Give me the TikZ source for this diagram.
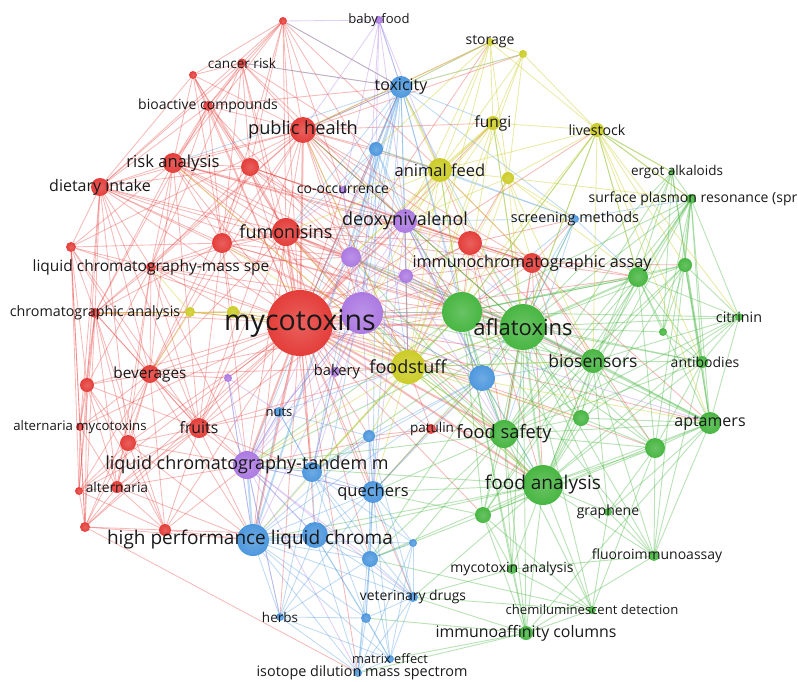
\documentclass[tikz,border=0pt]{standalone}
\usepackage{fontspec}
\setmainfont{Open Sans}
\usetikzlibrary{backgrounds}
\definecolor{cR}{RGB}{228,62,58}
\definecolor{cG}{RGB}{72,182,66}
\definecolor{cB}{RGB}{78,152,222}
\definecolor{cY}{RGB}{204,204,40}
\definecolor{cP}{RGB}{172,122,226}
\definecolor{txt}{RGB}{25,25,25}
\tikzset{
  vnode/.style={circle,inner sep=0pt,outer sep=0pt},
  lab/.style={text=txt,inner sep=1pt},
  eR/.style={draw=cR,opacity=0.36,line width=0.85pt},
  eG/.style={draw=cG,opacity=0.38,line width=0.95pt},
  eB/.style={draw=cB,opacity=0.36,line width=0.85pt},
  eY/.style={draw=cY,opacity=0.42,line width=0.85pt},
  eP/.style={draw=cP,opacity=0.36,line width=0.85pt},
  eRt/.style={draw=cR,opacity=0.36,line width=2pt},
  eGt/.style={draw=cG,opacity=0.36,line width=2pt},
  eBt/.style={draw=cB,opacity=0.36,line width=2pt},
  eYt/.style={draw=cY,opacity=0.42,line width=2pt},
}
\newcommand\nd[5]{\node[vnode,shading=radial,inner color=#5!82!white,outer color=#5,minimum size={2*#4pt}] (#1) at (#2,#3) {};}
\newcommand\lb[4][]{\node[lab,font=\fontsize{#4}{#4}\selectfont,#1] (#2-l) at (#2) {#3};}
\newcommand\lnk[3]{\foreach \tgt in {#3}{\draw[#1] (#2) -- (\tgt);}}
\begin{document}
\begin{tikzpicture}[x=1pt,y=-1pt]
\useasboundingbox (0,0) rectangle (798,681);
% ---------- nodes: red
\nd{r1}{283}{21}{4}{cR}
\nd{crisk}{242}{63}{4.5}{cR}
\nd{r2}{193}{75}{4}{cR}
\nd{bioact}{208}{106}{5}{cR}
\nd{pubh}{303}{130}{13}{cR}
\nd{riska}{173}{163}{10}{cR}
\nd{r3}{250}{167}{9}{cR}
\nd{diet}{100}{187}{9}{cR}
\nd{fumo}{286}{232}{14}{cR}
\nd{r4}{222}{243}{10}{cR}
\nd{r5}{71}{247}{5}{cR}
\nd{lcms}{151}{267}{5}{cR}
\nd{r6}{470}{243}{12}{cR}
\nd{immchrom}{532}{263}{10}{cR}
\nd{chroman}{95}{313}{5}{cR}
\nd{bev}{150}{374}{9}{cR}
\nd{r7}{87}{385}{7}{cR}
\nd{altmyc}{80}{427}{4}{cR}
\nd{fruits}{199}{428}{10}{cR}
\nd{r8}{128}{443}{8}{cR}
\nd{patulin}{431}{429}{5}{cR}
\nd{alt}{117}{487}{6}{cR}
\nd{r9}{79}{491}{4}{cR}
\nd{r10}{85}{527}{5}{cR}
\nd{r11}{165}{530}{6}{cR}
% green
\nd{g1}{462}{312}{20}{cG}
\nd{afla}{523}{327}{23}{cG}
\nd{g2}{638}{277}{10}{cG}
\nd{g3}{685}{265}{7}{cG}
\nd{ergot}{672}{172}{3}{cG}
\nd{spr}{691}{199}{5}{cG}
\nd{citrinin}{739}{317}{4}{cG}
\nd{g4}{663}{332}{4}{cG}
\nd{bios}{593}{361}{12}{cG}
\nd{antib}{702}{362}{6}{cG}
\nd{g5}{581}{418}{8}{cG}
\nd{apt}{710}{423}{11}{cG}
\nd{fsafe}{504}{434}{14}{cG}
\nd{g6}{655}{448}{10}{cG}
\nd{fana}{543}{485}{20}{cG}
\nd{g7}{483}{515}{8}{cG}
\nd{graph}{608}{512}{4}{cG}
\nd{fluoro}{654}{556}{5}{cG}
\nd{mycan}{512}{569}{5}{cG}
\nd{chemil}{592}{610}{4}{cG}
\nd{immaff}{526}{633}{7}{cG}
% blue
\nd{tox}{401}{87}{11}{cB}
\nd{b1}{376}{149}{7}{cB}
\nd{screen}{575}{219}{4}{cB}
\nd{b2}{482}{378}{13}{cB}
\nd{nuts}{279}{412}{5}{cB}
\nd{b3}{369}{436}{6}{cB}
\nd{b4}{312}{472}{10}{cB}
\nd{quech}{373}{492}{11}{cB}
\nd{hplc}{253}{540}{16}{cB}
\nd{b5}{315}{535}{13}{cB}
\nd{b6}{370}{559}{8}{cB}
\nd{b7}{413}{543}{4}{cB}
\nd{herbs}{280}{617}{4}{cB}
\nd{vet}{413}{597}{5}{cB}
\nd{b8}{366}{618}{5}{cB}
\nd{matrix}{390}{659}{4}{cB}
\nd{iso}{358}{673}{4}{cB}
% yellow
\nd{storage}{490}{42}{4}{cY}
\nd{y1}{523}{54}{4}{cY}
\nd{fungi}{493}{123}{7}{cY}
\nd{live}{597}{130}{7}{cY}
\nd{feed}{440}{170}{12}{cY}
\nd{y2}{508}{178}{6}{cY}
\nd{foods}{408}{367}{17}{cY}
\nd{y3}{190}{312}{5}{cY}
\nd{y4}{233}{312}{6}{cY}
% purple
\nd{baby}{379}{20}{4}{cP}
\nd{cooc}{343}{190}{4}{cP}
\nd{deoxy}{405}{221}{12}{cP}
\nd{p1}{351}{257}{10}{cP}
\nd{p2}{406}{276}{7}{cP}
\nd{p3}{362}{313}{21}{cP}
\nd{bakery}{335}{372}{5}{cP}
\nd{p4}{228}{378}{4}{cP}
\nd{lctms}{247}{465}{14}{cP}
\nd{myco}{300}{323}{33}{cR}
% ---------- edges
\begin{pgfonlayer}{background}
\lnk{eRt}{myco}{afla,g1,p3,foods,fumo,pubh,hplc,lctms,fana,fsafe,deoxy}
\lnk{eGt}{afla}{g1,fana,bios,fsafe,apt,g2}
\lnk{eBt}{hplc}{b5,lctms,tox}
\lnk{eYt}{feed}{fungi,tox}
\lnk{eR}{myco}{riska,diet,r3,r4,r5,lcms,chroman,bev,r7,altmyc,fruits,r8,alt,r9,r10,r11,bioact,crisk,r1,r2,r6,immchrom,patulin,tox,b1,cooc,p1,b2,bios,b4,quech,nuts,bakery,p4,y3,y4,feed,fungi,b5,b3,g5,apt,g2,storage,live,g6,g7,b6,herbs,iso,vet}
\lnk{eR}{pubh}{r1,crisk,r2,bioact,riska,r3,diet,fumo,r4,tox,b1,feed,fungi,deoxy,r6,immchrom,lcms,chroman,bev,fruits,afla,g1,foods,storage,cooc,p1,p3,r5,y1}
\lnk{eR}{r1}{crisk,r2,bioact,riska,diet,r3,fumo,tox,deoxy,feed,r4,cooc}
\lnk{eR}{crisk}{r2,bioact,riska,diet,r3,fumo,tox,b1,r4,deoxy,lcms}
\lnk{eR}{r2}{bioact,riska,diet,r3,fumo,r4}
\lnk{eR}{bioact}{riska,diet,r3,fumo,r4,lcms,chroman,tox,p1}
\lnk{eR}{riska}{diet,r3,fumo,r4,lcms,chroman,bev,r5,fruits,r6,immchrom,deoxy,p1,p3,foods,afla}
\lnk{eR}{r3}{diet,fumo,r4,deoxy,p1,r6,afla,g1,immchrom,lcms,bev}
\lnk{eR}{diet}{r5,lcms,chroman,bev,r7,fumo,r4,fruits,r8,altmyc,p1,p3,g1}
\lnk{eR}{fumo}{r4,lcms,p1,deoxy,r6,immchrom,p3,g1,afla,foods,lctms,fruits,bev,hplc,b4,quech,b2,fsafe,fana,bios}
\lnk{eR}{r4}{r5,lcms,chroman,bev,p1,p3,fruits,deoxy,y4,lctms,g1,afla}
\lnk{eR}{r5}{lcms,chroman,r7,altmyc,r9,r10,bev,fruits}
\lnk{eR}{lcms}{chroman,bev,r7,fruits,p1,p3,lctms,y4,r8,alt,g1}
\lnk{eR}{chroman}{r7,altmyc,bev,fruits,r8,y3,y4,r10,r9,alt,r11}
\lnk{eR}{r6}{immchrom,deoxy,p2,g1,afla,feed,y2,screen,bios,g2,foods,fsafe,fana}
\lnk{eR}{immchrom}{g1,afla,g2,g3,bios,apt,fsafe,fana,p2,deoxy,feed,screen,g6,g5}
\lnk{eR}{bev}{r7,altmyc,fruits,r8,alt,p4,lctms,r11,r9,r10,hplc,g1,foods}
\lnk{eR}{r7}{altmyc,fruits,r8,alt,r9,r10,r11}
\lnk{eR}{fruits}{r8,alt,r9,r10,r11,lctms,hplc,nuts,b4,p4,foods,p3}
\lnk{eR}{r8}{alt,r9,r10,r11,lctms,hplc}
\lnk{eR}{alt}{r9,r10,r11,lctms,hplc}
\lnk{eR}{r9}{r10,r11}
\lnk{eR}{r10}{r11,hplc,iso}
\lnk{eR}{r11}{hplc,lctms,b5}
\lnk{eR}{altmyc}{r9,r10,alt}
\lnk{eR}{patulin}{foods,fsafe,b2,fana,lctms,b3,quech}
\lnk{eG}{g1}{bios,g2,g3,fsafe,apt,g6,b2,foods,p3,deoxy,spr,citrinin,antib,g5,g7,immaff,mycan,feed,live,fluoro,p1,lctms,b4}
\lnk{eG}{afla}{g3,spr,ergot,citrinin,g4,antib,g5,g6,g7,graph,fluoro,mycan,chemil,immaff,b2,foods,live,fungi,screen,quech,b6,deoxy,p1,p2,lctms,b4,pubh}
\lnk{eG}{g2}{g3,spr,ergot,citrinin,g4,bios,antib,apt,g6,fana,fsafe,live,g1}
\lnk{eG}{g3}{spr,citrinin,antib,apt,g4,bios,fana,fsafe}
\lnk{eG}{spr}{ergot,g4,citrinin,antib,apt,bios,fana,g6,fsafe,live,fluoro,g7}
\lnk{eG}{ergot}{live,g4,apt,fana,antib,fsafe}
\lnk{eG}{bios}{antib,g5,apt,g6,fsafe,fana,graph,fluoro,g7,citrinin,foods,p3}
\lnk{eG}{antib}{apt,g6,citrinin,g4,fana,fluoro,fsafe}
\lnk{eG}{apt}{g6,g5,fana,fsafe,graph,fluoro,citrinin,g7,immaff}
\lnk{eG}{g5}{fsafe,fana,g6}
\lnk{eG}{fsafe}{fana,g7,b2,foods,quech,mycan,immaff,b6,b7,lctms,p1,p3}
\lnk{eG}{g6}{fana,graph,fluoro,g7,chemil,fsafe}
\lnk{eG}{fana}{g7,graph,fluoro,mycan,chemil,immaff,b2,foods,quech,b6,vet,hplc,b5,lctms,p3}
\lnk{eG}{g7}{mycan,immaff,chemil,quech,b6}
\lnk{eG}{graph}{fluoro,chemil}
\lnk{eG}{mycan}{immaff,chemil,fluoro,vet}
\lnk{eG}{immaff}{chemil,vet,matrix,iso,b8,fluoro}
\lnk{eG}{citrinin}{fsafe,fana,g5}
\lnk{eG}{chemil}{fsafe,b6,vet}
\lnk{eB}{tox}{baby,b1,deoxy,p1,p3,myco,fungi,storage,y1,fumo,b4,quech,lctms,foods,b2,cooc,screen,pubh,crisk,r1,riska,afla,g1,b5}
\lnk{eB}{b1}{deoxy,cooc,p1,p3,feed,b4,fumo,foods,b2,screen,quech}
\lnk{eB}{screen}{b2,afla,g1,spr,g2,deoxy,fsafe,feed}
\lnk{eB}{b2}{foods,fsafe,quech,b3,b4,hplc,fana,bios,p3,deoxy}
\lnk{eB}{b3}{quech,b4,hplc,b6,vet,nuts}
\lnk{eB}{b4}{quech,hplc,b5,b6,nuts,lctms,herbs,vet,b8,b7}
\lnk{eB}{quech}{hplc,b5,b6,b7,vet,b8,lctms,matrix,iso,herbs}
\lnk{eB}{hplc}{b6,herbs,b8,vet,matrix,iso,nuts,p4,b7}
\lnk{eB}{b5}{b6,herbs,b8,vet,matrix,iso,lctms}
\lnk{eB}{b6}{vet,b8,matrix,iso,b7,herbs}
\lnk{eB}{b7}{vet,matrix,iso}
\lnk{eB}{herbs}{b8,iso,matrix,lctms}
\lnk{eB}{vet}{b8,matrix,iso}
\lnk{eB}{b8}{matrix,iso}
\lnk{eB}{matrix}{iso}
\lnk{eB}{nuts}{p3,lctms,b4,foods}
\lnk{eY}{storage}{y1,fungi,feed,tox,y2,deoxy,live,foods,b1,pubh}
\lnk{eY}{y1}{fungi,feed,live,tox,y2,foods}
\lnk{eY}{fungi}{live,y2,deoxy,foods,p3,afla,g1,p1}
\lnk{eY}{live}{feed,y2,ergot,spr,g2,g3,bios,afla,foods,g1,citrinin,antib,apt}
\lnk{eY}{feed}{y2,deoxy,p1,p2,p3,foods,cooc,g1,afla,b1,immchrom,fumo}
\lnk{eY}{y2}{deoxy,foods,g1,afla,screen,spr,g2,bios,immchrom}
\lnk{eY}{foods}{p3,g1,afla,bios,fsafe,fana,b2,bakery,quech,lctms,hplc,b4,b3,apt,g5,p2,deoxy,fumo,pubh,riska,r4}
\lnk{eY}{y3}{y4,myco,chroman,lcms,bev}
\lnk{eY}{y4}{myco,p3,foods,chroman}
\lnk{eP}{baby}{tox,deoxy,p3,b1,cooc,pubh,r1,feed}
\lnk{eP}{cooc}{deoxy,p1,p3,fumo}
\lnk{eP}{deoxy}{p1,p2,p3,g1,foods,lctms,b2,quech,bios,fsafe}
\lnk{eP}{p1}{p2,p3,foods,lctms,g1}
\lnk{eP}{p2}{p3,g1,foods,fsafe,bios}
\lnk{eP}{p3}{g1,afla,bakery,lctms,hplc,b4,quech,b2,nuts,apt}
\lnk{eP}{bakery}{foods,lctms,b4}
\lnk{eP}{p4}{lctms,nuts,hplc}
\lnk{eP}{lctms}{b5,b4,quech,herbs,b6,vet,iso,nuts}
\end{pgfonlayer}
% ---------- labels
\lb{crisk}{cancer risk}{13.6}
\lb{bioact}{bioactive compounds}{14}
\lb{pubh}{public health}{18.2}
\lb{riska}{risk analysis}{16.6}
\lb{diet}{dietary intake}{16}
\lb{fumo}{fumonisins}{18}
\lb{lcms}{liquid chromatography-mass spe}{15.5}
\lb{immchrom}{immunochromatographic assay}{16.2}
\lb{chroman}{chromatographic analysis}{14.3}
\lb{myco}{mycotoxins}{28.5}
\lb{bev}{beverages}{15.4}
\lb{altmyc}{alternaria mycotoxins}{13.2}
\lb{fruits}{fruits}{15.8}
\lb[xshift=1pt]{patulin}{patulin}{13.5}
\lb{alt}{alternaria}{13.8}
\lb{afla}{aflatoxins}{22}
\lb[xshift=5pt]{ergot}{ergot alkaloids}{13.5}
\lb[xshift=2pt]{spr}{surface plasmon resonance (spr}{14}
\lb{citrinin}{citrinin}{14.3}
\lb{bios}{biosensors}{17.5}
\lb[xshift=3pt]{antib}{antibodies}{14}
\lb{apt}{aptamers}{16}
\lb{fsafe}{food safety}{18.3}
\lb{fana}{food analysis}{19}
\lb{graph}{graphene}{14}
\lb[xshift=3pt]{fluoro}{fluoroimmunoassay}{14}
\lb{mycan}{mycotoxin analysis}{14}
\lb{chemil}{chemiluminescent detection}{13.1}
\lb{immaff}{immunoaffinity columns}{15.9}
\lb{tox}{toxicity}{16}
\lb{screen}{screening methods}{14.4}
\lb{nuts}{nuts}{13}
\lb{quech}{quechers}{16.5}
\lb[xshift=-3pt]{hplc}{high performance liquid chroma}{19}
\lb{herbs}{herbs}{13.5}
\lb{vet}{veterinary drugs}{13.9}
\lb{matrix}{matrix effect}{12.8}
\lb[xshift=4pt]{iso}{isotope dilution mass spectrom}{14.4}
\lb{storage}{storage}{14}
\lb{fungi}{fungi}{15.5}
\lb{live}{livestock}{14.2}
\lb{feed}{animal feed}{16.5}
\lb{foods}{foodstuff}{18}
\lb{baby}{baby food}{13.1}
\lb{cooc}{co-occurrence}{14}
\lb{deoxy}{deoxynivalenol}{18}
\lb[xshift=2pt]{bakery}{bakery}{14.7}
\lb{lctms}{liquid chromatography-tandem m}{18}
\end{tikzpicture}
\end{document}
